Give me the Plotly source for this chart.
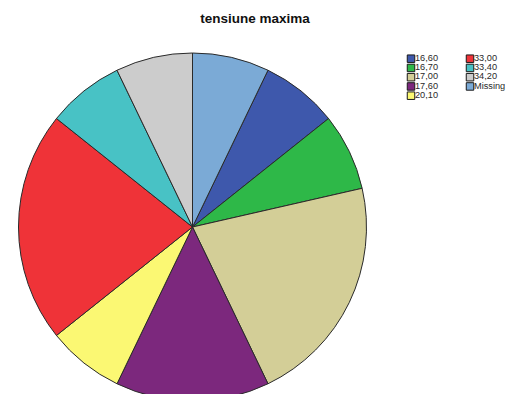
import plotly.graph_objects as go

# Frequencies of "tensiune maxima" (counts per value, Missing last)
labels = ["16,60", "16,70", "17,00", "17,60", "20,10", "33,00", "33,40", "34,20", "Missing"]
counts = [1, 1, 3, 2, 1, 3, 1, 1, 1]
colors = ["#3E58AC", "#2EB848", "#D3CE97", "#7C287D", "#FBF873",
          "#EF3338", "#48C2C5", "#CCCCCC", "#7BAAD6"]
title_text = "tensiune maxima"

W, H = 510, 401

# Pie placement in pixels (centre and radius)
cx, cy, r = 192.5, 227.0, 174.0

# Missing slice sits just clockwise of 12 o'clock; the others follow it
total = sum(counts)
start_rotation = 360.0 * counts[-1] / total

fig = go.Figure()

fig.add_trace(go.Pie(
    labels=labels,
    values=counts,
    sort=False,
    direction="clockwise",
    rotation=start_rotation,
    marker=dict(colors=colors, line=dict(color="#2a2a2a", width=1)),
    textinfo="none",
    hoverinfo="label+value+percent",
    showlegend=False,
    domain=dict(x=[(cx - r) / W, (cx + r) / W],
                y=[(H - cy - r) / H, (H - cy + r) / H]),
))

# Two-column legend drawn on an invisible pixel-scaled axis
col_x = [411, 470]
row_y0, row_dy = 58.7, 9.25
per_col = 5
lx, ly = [], []
for i in range(len(labels)):
    c, rr = divmod(i, per_col)
    lx.append(col_x[c])
    ly.append(row_y0 + rr * row_dy)

fig.add_trace(go.Scatter(
    x=lx, y=ly,
    mode="markers",
    marker=dict(symbol="square", size=7.5, color=colors,
                line=dict(color="#1a1a1a", width=1)),
    hoverinfo="skip",
    showlegend=False,
))
fig.add_trace(go.Scatter(
    x=[v + 4 for v in lx], y=ly,
    mode="text",
    text=labels,
    textposition="middle right",
    textfont=dict(family="Liberation Sans, Arial, sans-serif", size=9.2, color="#2a2a2a"),
    hoverinfo="skip",
    showlegend=False,
))

fig.update_layout(
    width=W, height=H,
    margin=dict(l=0, r=0, t=0, b=0),
    paper_bgcolor="white",
    plot_bgcolor="rgba(0,0,0,0)",
    title=dict(text="<b>" + title_text + "</b>",
               x=0.5, xanchor="center",
               yref="container", y=1 - 18.5 / H, yanchor="middle",
               font=dict(family="Liberation Sans, Arial, sans-serif", size=13.5, color="#111111")),
    xaxis=dict(range=[0, W], visible=False, fixedrange=True),
    yaxis=dict(range=[H, 0], visible=False, fixedrange=True),
    showlegend=False,
)

fig.write_html("out.html")
